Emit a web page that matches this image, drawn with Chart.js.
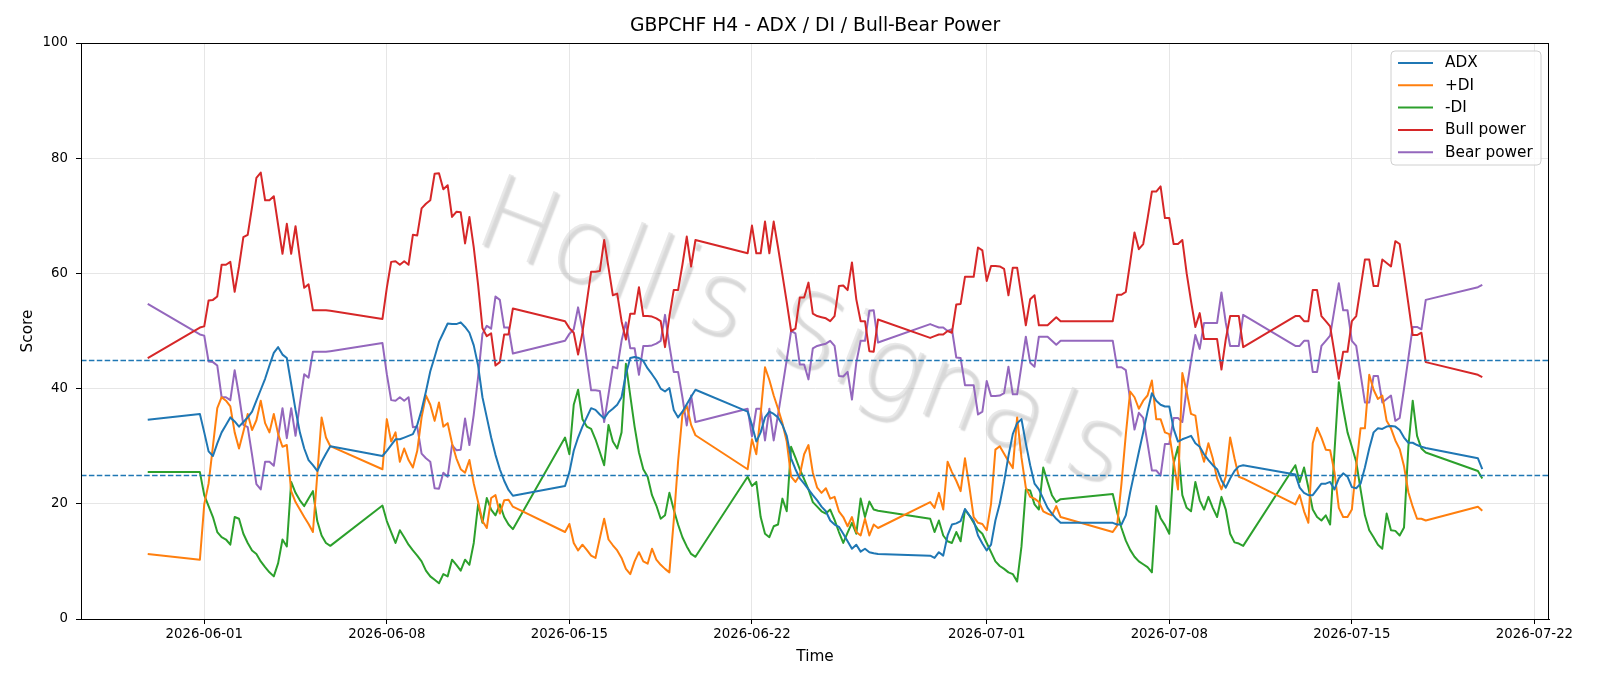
<!DOCTYPE html>
<html>
<head>
<meta charset="utf-8">
<title>GBPCHF H4 - ADX / DI / Bull-Bear Power</title>
<script src="https://cdn.jsdelivr.net/npm/chart.js@4.4.1/dist/chart.umd.min.js"></script>
<style>
  html, body { margin: 0; padding: 0; background: #fff; }
  #wrap { width: 1600px; height: 686px; }
</style>
</head>
<body>
<div id="wrap"><canvas id="chart" width="1600" height="686"></canvas></div>
<script>
// H4 candles: [first candle (UTC), number of candles]
const sessions = [
  ['2026-05-29T20:00:00Z', 1],
  ['2026-05-31T20:00:00Z', 31],
  ['2026-06-07T20:00:00Z', 31],
  ['2026-06-14T20:00:00Z', 31],
  ['2026-06-21T20:00:00Z', 31],
  ['2026-06-28T20:00:00Z', 31],
  ['2026-07-05T20:00:00Z', 31],
  ['2026-07-12T20:00:00Z', 31],
  ['2026-07-19T20:00:00Z', 2]
];

const tickDates = ['2026-06-01', '2026-06-08', '2026-06-15', '2026-06-22',
                   '2026-07-01', '2026-07-08', '2026-07-15', '2026-07-22'];

const refLevels = [45, 25];

const adx = [34.6,
  35.6, 32.4, 29.1, 28.3, 30.5, 32.4, 33.7, 35.0, 34.3, 33.4, 34.2, 35.0, 36.0, 37.9, 39.8, 41.7, 44.0, 46.2, 47.2, 45.9, 45.3, 40.8, 36.3, 32.4, 29.6, 27.6, 26.7, 25.7, 27.3, 28.7, 30.0,
  28.3, 29.2, 30.2, 31.2, 31.2, 31.5, 31.8, 32.1, 33.7, 36.3, 39.5, 43.0, 45.5, 48.1, 49.7, 51.3, 51.2, 51.2, 51.5, 50.7, 49.7, 47.5, 44.0, 38.5, 35.0, 31.5, 28.5, 26.0, 24.0, 22.4, 21.4,
  23.1, 25.5, 29.2, 31.5, 33.4, 35.0, 36.6, 36.3, 35.5, 34.8, 35.9, 36.5, 37.2, 38.5, 42.5, 45.3, 45.5, 45.3, 44.8, 43.5, 42.5, 41.4, 40.0, 39.5, 40.1, 36.3, 35.0, 36.0, 37.3, 38.6, 39.8,
  36.0, 33.7, 30.8, 32.4, 35.0, 36.0, 35.6, 35.0, 33.7, 31.8, 27.9, 26.0, 24.4, 23.5, 22.5, 21.5, 20.6, 19.5, 18.7, 17.1, 16.4, 16.0, 14.8, 13.5, 12.2, 12.9, 11.7, 12.2, 11.6, 11.4, 11.3,
  11.0, 10.6, 11.6, 11.0, 14.5, 16.4, 16.6, 17.0, 19.1, 18.0, 17.0, 14.5, 13.1, 11.9, 12.9, 17.1, 20.0, 23.8, 28.3, 32.1, 34.0, 34.7, 30.5, 26.7, 23.5, 22.5, 20.9, 19.3, 18.3, 17.4, 16.7,
  16.7, 16.4, 16.4, 18.0, 22.0, 25.5, 29.0, 32.4, 36.0, 39.2, 37.9, 37.2, 36.9, 36.9, 33.0, 30.8, 31.2, 31.5, 31.8, 30.5, 29.9, 28.6, 27.6, 26.7, 26.0, 24.1, 22.8, 24.4, 25.7, 26.5, 26.7,
  25.1, 22.8, 21.9, 21.5, 21.5, 22.5, 23.5, 23.5, 23.8, 22.5, 24.4, 25.3, 24.7, 22.9, 22.7, 23.5, 26.3, 29.6, 32.4, 33.1, 33.0, 33.4, 33.5, 33.4, 32.8, 31.5, 30.6, 30.6, 30.2, 29.9, 29.7,
  27.9, 26.0];

const plusDi = [11.3,
  10.3, 19.9, 23.5, 30.0, 36.6, 38.5, 37.9, 36.9, 32.4, 29.6, 32.5, 35.6, 32.8, 34.5, 37.9, 34.0, 32.4, 35.6, 32.1, 29.9, 30.2, 22.2, 20.3, 19.0, 17.7, 16.5, 15.1, 25.0, 35.0, 31.5, 30.0,
  26.0, 34.7, 30.8, 32.4, 27.3, 29.6, 27.6, 26.3, 29.2, 35.0, 38.8, 37.2, 34.4, 37.6, 33.4, 34.0, 30.5, 27.9, 26.0, 25.4, 27.6, 23.5, 20.3, 17.0, 15.8, 21.0, 21.5, 18.3, 20.6, 20.7, 19.5,
  15.1, 16.5, 13.2, 11.9, 12.9, 12.0, 11.0, 10.6, 14.0, 17.4, 13.8, 12.8, 11.9, 10.6, 8.7, 7.8, 10.0, 11.6, 10.0, 9.6, 12.2, 10.3, 9.4, 8.7, 8.1, 17.0, 27.3, 35.5, 37.0, 33.7, 31.9,
  26.0, 31.2, 28.6, 35.6, 43.7, 41.5, 38.8, 36.5, 34.0, 30.8, 24.7, 23.8, 25.0, 28.6, 30.2, 25.4, 22.8, 21.9, 22.7, 20.9, 21.2, 18.7, 17.7, 16.1, 17.7, 15.1, 14.5, 17.4, 14.5, 16.4, 15.8,
  20.3, 19.3, 21.9, 19.0, 27.3, 25.5, 24.0, 22.2, 27.9, 23.0, 17.7, 16.7, 16.5, 15.4, 20.0, 29.4, 30.0, 28.7, 27.4, 26.2, 35.0, 28.0, 22.8, 21.2, 20.9, 20.3, 18.7, 18.3, 18.0, 19.6, 17.7,
  15.1, 16.2, 23.5, 32.0, 39.5, 38.5, 36.5, 37.9, 38.8, 41.4, 34.7, 34.7, 32.4, 32.1, 27.3, 22.5, 42.7, 39.5, 35.6, 35.3, 29.9, 27.3, 30.5, 27.9, 24.4, 22.5, 24.7, 31.5, 27.9, 24.7, 24.4,
  19.9, 21.5, 18.7, 16.7, 30.5, 33.2, 31.5, 29.4, 29.3, 25.5, 19.3, 17.7, 17.7, 19.0, 26.5, 33.1, 33.1, 42.4, 39.8, 38.2, 38.8, 34.4, 33.1, 31.0, 29.5, 26.5, 22.0, 19.5, 17.4, 17.4, 17.1,
  19.5, 18.8];

const minusDi = [25.5,
  25.5, 21.5, 19.6, 17.7, 15.1, 14.2, 13.8, 12.9, 17.7, 17.4, 14.8, 13.2, 11.9, 11.3, 10.0, 9.0, 8.1, 7.4, 9.7, 13.8, 12.6, 23.8, 21.9, 20.6, 19.6, 20.9, 22.2, 17.0, 14.5, 13.2, 12.7,
  19.7, 17.0, 15.1, 13.2, 15.4, 14.2, 12.9, 11.9, 11.0, 10.0, 8.4, 7.4, 6.8, 6.2, 7.8, 7.4, 10.3, 9.4, 8.4, 10.3, 9.4, 13.2, 19.9, 16.7, 21.0, 19.0, 18.0, 19.9, 17.7, 16.4, 15.6,
  31.5, 28.6, 37.2, 39.8, 34.7, 33.4, 33.0, 31.2, 29.0, 26.7, 33.7, 30.8, 29.6, 32.4, 44.3, 38.8, 33.4, 28.9, 26.0, 24.7, 21.5, 19.7, 17.4, 18.0, 21.9, 19.0, 16.4, 14.2, 12.6, 11.3, 10.8,
  24.7, 23.1, 23.8, 17.7, 14.8, 14.2, 16.1, 16.4, 20.9, 18.7, 29.9, 28.0, 26.0, 24.3, 22.5, 20.3, 19.5, 18.7, 18.3, 19.0, 17.2, 15.1, 13.2, 15.0, 16.7, 14.8, 20.9, 17.7, 20.4, 19.0, 18.8,
  17.4, 15.1, 17.1, 14.5, 13.5, 13.2, 15.1, 13.5, 19.0, 18.0, 16.7, 15.5, 14.8, 13.2, 11.6, 10.0, 9.2, 8.7, 8.1, 7.8, 6.5, 12.6, 22.5, 22.3, 19.9, 19.0, 26.3, 23.8, 21.5, 20.3, 20.8,
  21.7, 18.5, 15.8, 13.6, 12.0, 10.8, 10.0, 9.5, 9.0, 8.1, 19.6, 17.5, 16.3, 14.8, 27.0, 29.9, 21.5, 19.3, 18.7, 23.8, 20.6, 19.0, 21.2, 19.3, 17.7, 21.2, 19.0, 14.8, 13.3, 13.1, 12.7,
  26.7, 23.8, 26.3, 22.8, 19.0, 17.7, 17.1, 18.0, 16.4, 29.0, 41.1, 36.5, 32.4, 29.9, 27.3, 22.5, 18.0, 15.4, 14.2, 12.9, 12.2, 18.3, 15.4, 15.3, 14.5, 15.9, 29.9, 37.9, 31.8, 29.6, 28.9,
  25.7, 24.4];

const bullPower = [45.3,
  50.6, 50.8, 55.3, 55.4, 56.0, 61.5, 61.5, 62.0, 56.8, 61.2, 66.3, 66.7, 71.5, 76.6, 77.5, 72.7, 72.7, 73.4, 68.4, 63.4, 68.6, 63.4, 68.2, 62.6, 57.5, 58.1, 53.6, 53.6, 53.6, 53.6, 53.5,
  52.1, 57.5, 62.0, 62.1, 61.5, 62.1, 61.5, 66.7, 66.6, 71.3, 72.1, 72.7, 77.3, 77.4, 74.6, 75.3, 69.8, 70.7, 70.6, 65.2, 69.8, 64.5, 58.0, 50.5, 49.1, 49.6, 44.0, 44.6, 49.4, 49.4, 53.9,
  51.7, 50.5, 49.7, 45.9, 49.7, 55.0, 60.3, 60.3, 60.4, 65.8, 61.0, 56.2, 56.5, 51.7, 48.5, 53.0, 53.0, 57.6, 52.6, 52.6, 52.5, 52.2, 51.7, 47.2, 52.5, 57.1, 57.1, 61.5, 66.4, 61.2, 65.8,
  63.5, 68.3, 63.5, 63.5, 69.0, 63.5, 69.0, 64.5, 59.8, 55.0, 50.0, 50.4, 55.8, 55.8, 58.4, 53.0, 52.6, 52.4, 52.2, 51.7, 52.6, 57.8, 57.9, 57.1, 61.9, 55.5, 51.7, 51.7, 46.5, 46.4, 52.0,
  48.8, 49.1, 49.4, 49.4, 50.0, 49.7, 54.6, 54.7, 59.4, 59.4, 59.4, 64.5, 64.0, 58.7, 61.3, 61.3, 61.2, 60.8, 56.2, 61.0, 61.0, 56.0, 51.0, 55.5, 56.2, 51.0, 51.0, 51.0, 51.7, 52.4, 51.7,
  51.7, 56.3, 56.3, 56.8, 61.9, 67.1, 64.2, 65.1, 69.5, 74.2, 74.2, 75.1, 69.6, 69.6, 65.1, 65.1, 65.8, 60.0, 55.2, 50.7, 53.1, 48.6, 48.6, 48.6, 48.6, 43.3, 48.6, 52.6, 52.6, 52.6, 47.2,
  52.6, 52.6, 51.7, 51.7, 57.1, 57.1, 52.6, 51.7, 50.8, 46.2, 41.7, 46.4, 46.4, 51.7, 52.6, 57.5, 62.4, 62.4, 57.8, 57.8, 62.4, 61.8, 61.2, 65.6, 65.1, 60.0, 54.7, 49.3, 49.3, 49.7, 44.6,
  42.4, 42.0];

const bearPower = [54.7,
  49.4, 49.2, 44.7, 44.6, 44.0, 38.5, 38.5, 38.0, 43.2, 38.8, 33.7, 33.3, 28.5, 23.4, 22.5, 27.3, 27.3, 26.6, 31.6, 36.6, 31.4, 36.6, 31.8, 37.4, 42.5, 41.9, 46.4, 46.4, 46.4, 46.4, 46.5,
  47.9, 42.5, 38.0, 37.9, 38.5, 37.9, 38.5, 33.3, 33.4, 28.7, 27.9, 27.3, 22.7, 22.6, 25.4, 24.7, 30.2, 29.3, 29.4, 34.8, 30.2, 35.5, 42.0, 49.5, 50.9, 50.4, 56.0, 55.4, 50.6, 50.6, 46.1,
  48.3, 49.5, 50.3, 54.1, 50.3, 45.0, 39.7, 39.7, 39.6, 34.2, 39.0, 43.8, 43.5, 48.3, 51.5, 47.0, 47.0, 42.4, 47.4, 47.4, 47.5, 47.8, 48.3, 52.8, 47.5, 42.9, 42.9, 38.5, 33.6, 38.8, 34.2,
  36.5, 31.7, 36.5, 36.5, 31.0, 36.5, 31.0, 35.5, 40.2, 45.0, 50.0, 49.6, 44.2, 44.2, 41.6, 47.0, 47.4, 47.6, 47.8, 48.3, 47.4, 42.2, 42.1, 42.9, 38.1, 44.5, 48.3, 48.3, 53.5, 53.6, 48.0,
  51.2, 50.9, 50.6, 50.6, 50.0, 50.3, 45.4, 45.3, 40.6, 40.6, 40.6, 35.5, 36.0, 41.3, 38.7, 38.7, 38.8, 39.2, 43.8, 39.0, 39.0, 44.0, 49.0, 44.5, 43.8, 49.0, 49.0, 49.0, 48.3, 47.6, 48.3,
  48.3, 43.7, 43.7, 43.2, 38.1, 32.9, 35.8, 34.9, 30.5, 25.8, 25.8, 24.9, 30.4, 30.4, 34.9, 34.9, 34.2, 40.0, 44.8, 49.3, 46.9, 51.4, 51.4, 51.4, 51.4, 56.7, 51.4, 47.4, 47.4, 47.4, 52.8,
  47.4, 47.4, 48.3, 48.3, 42.9, 42.9, 47.4, 48.3, 49.2, 53.8, 58.3, 53.6, 53.6, 48.3, 47.4, 42.5, 37.6, 37.6, 42.2, 42.2, 37.6, 38.2, 38.8, 34.4, 34.9, 40.0, 45.3, 50.7, 50.7, 50.3, 55.4,
  57.6, 58.0];

const seriesNames = ['ADX', '+DI', '-DI', 'Bull power', 'Bear power'];
const seriesColors = ['#1f77b4', '#ff7f0e', '#2ca02c', '#d62728', '#9467bd'];
const seriesValues = [adx, plusDi, minusDi, bullPower, bearPower];

// x values are days since 2026-06-01 00:00 UTC
const DAY = 86400000;
const origin = Date.UTC(2026, 5, 1);
const times = [];
sessions.forEach(([start, n]) => {
  const t0 = Date.parse(start);
  for (let i = 0; i < n; i++) times.push((t0 + i * 4 * 3600000 - origin) / DAY);
});
const tickDays = tickDates.map(d => (Date.parse(d + 'T00:00:00Z') - origin) / DAY);

// matplotlib style 5% margins
const span = times[times.length - 1] - times[0];
const xMin = times[0] - 0.05 * span;
const xMax = times[times.length - 1] + 0.05 * span;

function fmtDay(v) {
  const d = new Date(origin + Math.round(v * 24) * 3600000);
  return d.toISOString().slice(0, 10);
}

const FONT = '"DejaVu Sans", Verdana, sans-serif';
Chart.defaults.font.family = FONT;
Chart.defaults.font.size = 13.3;
Chart.defaults.color = '#000';

const decor = {
  id: 'decor',
  beforeDatasetsDraw(chart) {
    const { ctx, chartArea } = chart;
    ctx.save();
    ctx.beginPath();
    ctx.rect(chartArea.left, chartArea.top, chartArea.width, chartArea.height);
    ctx.clip();
    ctx.translate(800, 338);
    ctx.rotate(21 * Math.PI / 180);
    ctx.font = '200 104px "DejaVu Sans ExtraLight", "DejaVu Sans", sans-serif';
    ctx.textAlign = 'center';
    ctx.textBaseline = 'middle';
    ctx.shadowColor = 'rgba(0,0,0,0.28)';
    ctx.shadowOffsetX = 2;
    ctx.shadowOffsetY = 2;
    ctx.shadowBlur = 1.5;
    ctx.fillStyle = 'rgba(215,215,215,0.55)';
    ctx.fillText('Hollis Signals', 0, 0);
    ctx.restore();
  },
  afterDatasetsDraw(chart) {
    const { ctx, chartArea, scales } = chart;
    ctx.save();
    ctx.strokeStyle = '#1f77b4';
    ctx.lineWidth = 1.3;
    ctx.setLineDash([5.5, 2.4]);
    refLevels.forEach(level => {
      const y = Math.round(scales.y.getPixelForValue(level)) + 0.5;
      ctx.beginPath();
      ctx.moveTo(chartArea.left, y);
      ctx.lineTo(chartArea.right, y);
      ctx.stroke();
    });
    ctx.restore();
  },
  afterDraw(chart) {
    const { ctx, chartArea } = chart;
    ctx.save();
    // frame
    ctx.strokeStyle = '#000';
    ctx.lineWidth = 1;
    ctx.strokeRect(chartArea.left + 0.5, chartArea.top + 0.5, chartArea.width - 1, chartArea.height);

    // title
    ctx.fillStyle = '#000';
    ctx.font = '18.7px ' + FONT;
    ctx.textAlign = 'center';
    ctx.textBaseline = 'middle';
    ctx.fillText('GBPCHF H4 - ADX / DI / Bull-Bear Power', (chartArea.left + chartArea.right) / 2, 26);

    // legend
    const bx = 1391, by = 51, bw = 150, bh = 114, r = 4;
    ctx.beginPath();
    ctx.moveTo(bx + r, by);
    ctx.arcTo(bx + bw, by, bx + bw, by + bh, r);
    ctx.arcTo(bx + bw, by + bh, bx, by + bh, r);
    ctx.arcTo(bx, by + bh, bx, by, r);
    ctx.arcTo(bx, by, bx + bw, by, r);
    ctx.closePath();
    ctx.fillStyle = 'rgba(255,255,255,0.8)';
    ctx.fill();
    ctx.strokeStyle = '#d0d0d0';
    ctx.stroke();
    ctx.font = '15.3px ' + FONT;
    ctx.textAlign = 'left';
    seriesNames.forEach((name, i) => {
      const y = 63 + i * 22.3;
      ctx.strokeStyle = seriesColors[i];
      ctx.lineWidth = 2;
      ctx.beginPath();
      ctx.moveTo(1398, y);
      ctx.lineTo(1433, y);
      ctx.stroke();
      ctx.fillStyle = '#000';
      ctx.fillText(name, 1445, y + 0.5);
    });
    ctx.restore();
  }
};

new Chart(document.getElementById('chart'), {
  type: 'line',
  data: {
    datasets: seriesNames.map((name, i) => ({
      label: name,
      data: seriesValues[i].map((v, k) => ({ x: times[k], y: v })),
      borderColor: seriesColors[i],
      backgroundColor: seriesColors[i],
      borderWidth: 2,
      pointRadius: 0,
      tension: 0,
      fill: false,
      borderJoinStyle: 'round'
    }))
  },
  options: {
    responsive: false,
    animation: false,
    devicePixelRatio: 1,
    layout: { padding: { top: 43, right: 51, bottom: 0, left: 0 } },
    plugins: {
      legend: { display: false },
      title: { display: false },
      tooltip: { enabled: false }
    },
    scales: {
      x: {
        type: 'linear',
        min: xMin,
        max: xMax,
        afterBuildTicks: s => { s.ticks = tickDays.map(v => ({ value: v })); },
        afterFit: s => { s.height = 67; s.paddingLeft = 0; s.paddingRight = 0; },
        ticks: { callback: v => fmtDay(v), autoSkip: false, maxRotation: 0, padding: 3, color: '#000' },
        grid: { color: '#e6e6e6', tickColor: '#000', tickLength: 5, lineWidth: 1 },
        border: { color: '#000', width: 1 },
        title: { display: true, text: 'Time', color: '#000', font: { size: 15.3 }, padding: { top: 0, bottom: 20 } }
      },
      y: {
        min: 0,
        max: 100,
        afterFit: s => { s.width = 81; s.paddingTop = 0; s.paddingBottom = 0; },
        ticks: { stepSize: 20, padding: 8, color: '#000' },
        grid: { color: '#e6e6e6', tickColor: '#000', tickLength: 5, lineWidth: 1 },
        border: { color: '#000', width: 1 },
        title: { display: true, text: 'Score', color: '#000', font: { size: 15.3 }, padding: { top: 19, bottom: 0 } }
      }
    }
  },
  plugins: [decor]
});
</script>
</body>
</html>
